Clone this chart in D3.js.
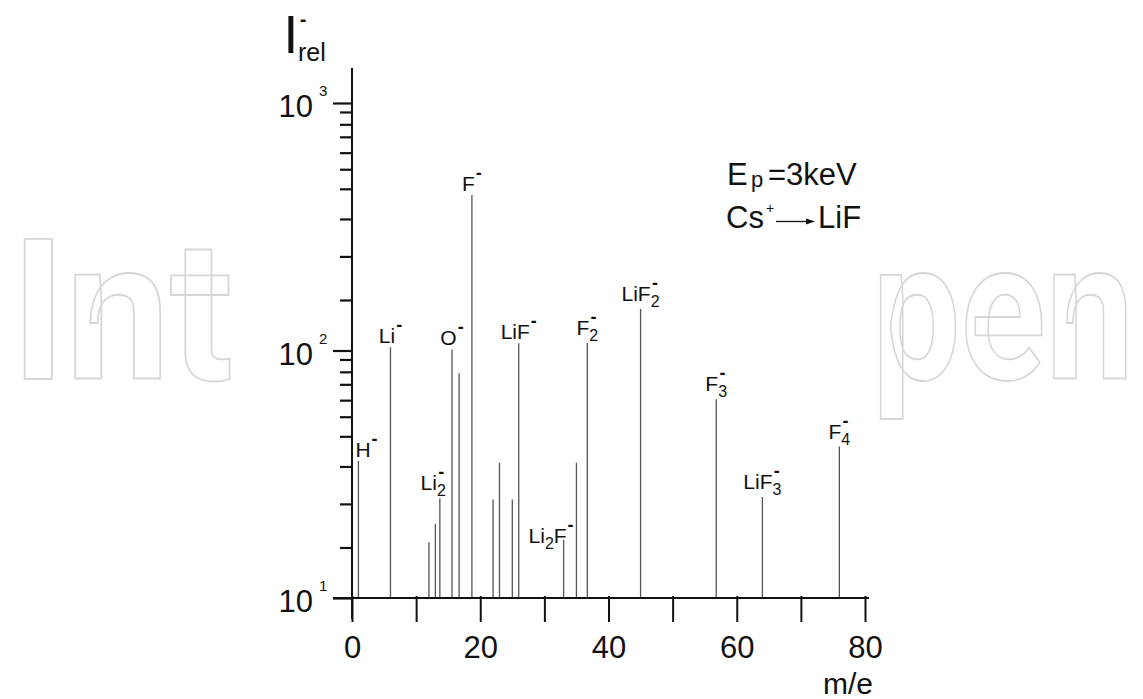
<!DOCTYPE html>
<html><head><meta charset="utf-8">
<script src="https://cdn.jsdelivr.net/npm/d3@7"></script>
<style>
body{margin:0;background:#fff}
svg{display:block}
text{font-family:"Liberation Sans",Arial,Helvetica,sans-serif;fill:#111}
</style>
</head><body>
<svg id="chart" width="1143" height="699"></svg>
<script>
// ---- data ----
const massValues  = [1, 6, 12, 13, 13.7, 15.6, 16.7, 18.7, 22, 23, 25, 26, 33, 35, 36.7, 45, 56.8, 64, 76];
const intensities = [35.8, 103, 16.8, 19.9, 25.3, 101, 80.9, 425, 25, 35.2, 25, 107, 17.2, 35.2, 107.6, 147, 63.5, 25.6, 40.9];
const peakLabels  = ["H^-", "Li^-", "", "", "Li_2^-", "O^-", "", "F^-", "", "", "", "LiF^-", "Li_2F^-", "", "F_2^-", "LiF_2^-", "F_3^-", "LiF_3^-", "F_4^-"];
const xTicks = [0, 10, 20, 30, 40, 50, 60, 70, 80];
const xTickLabels = ["0", "", "20", "", "40", "", "60", "", "80"];
const yDecades = [10, 100, 1000];
const yDecadeExponents = ["1", "2", "3"];
const yMinorMultipliers = [1.6, 2.4, 3.4, 4.5, 5.4, 6.3, 7.3, 8.2, 9.2];
const xTitle = "m/e";
const watermarkParts = ["Int", "pen"];

// ---- layout ----
const svg = d3.select("#chart");
const x = d3.scaleLinear().domain([0, 80]).range([352, 865]);
const y = d3.scaleLog().domain([10, 1000]).range([598, 103]);

// watermark fragments visible outside the plot area (scaled horizontally to fit)
const wmGeom = [{x: 11, len: 222}, {x: 872, len: 262}];
watermarkParts.forEach((s, i) => {
  const t = svg.append("text")
    .attr("x", 0).attr("y", 0)
    .style("font-family", "Roboto, 'Open Sans', sans-serif")
    .style("font-weight", "700")
    .style("font-size", "196px")
    .style("fill", "none").style("stroke", "#d6d6d6").style("stroke-width", 1.8)
    .text(s);
  const w = t.node().getComputedTextLength() || wmGeom[i].len;
  t.attr("transform", `translate(${wmGeom[i].x},379) scale(${wmGeom[i].len / w},1)`);
});

// peaks
svg.append("g").selectAll("line").data(massValues).join("line")
  .attr("x1", d => x(d)).attr("x2", d => x(d))
  .attr("y1", y(10)).attr("y2", (d, i) => y(intensities[i]))
  .attr("stroke", "#555").attr("stroke-width", 1.3);

// axes
const minorVals = [];
yDecades.slice(0, 2).forEach(dv => yMinorMultipliers.forEach(m => minorVals.push(dv * m)));

const yMajor = svg.append("g").attr("transform", `translate(${x(0)},0)`)
  .call(d3.axisLeft(y).tickValues(yDecades).tickSize(19).tickFormat(""));
const yMinor = svg.append("g").attr("transform", `translate(${x(0)},0)`)
  .call(d3.axisLeft(y).tickValues(minorVals).tickSize(12).tickFormat(""));
[yMajor, yMinor].forEach(g => {
  g.select(".domain").remove();
  g.selectAll(".tick line").attr("stroke", "#111").attr("stroke-width", 2.2);
});
svg.append("line").attr("x1", x(0)).attr("x2", x(0))
  .attr("y1", y(10) + 21).attr("y2", y(1000) - 35)
  .attr("stroke", "#111").attr("stroke-width", 2);

const xAxis = svg.append("g").attr("transform", `translate(0,${y(10)})`)
  .call(d3.axisBottom(x).tickValues(xTicks).tickSize(24).tickPadding(14)
    .tickFormat((d, i) => xTickLabels[i]));
xAxis.select(".domain").remove();
xAxis.selectAll(".tick line").attr("stroke", "#111").attr("stroke-width", 2).attr("y1", -2);
xAxis.selectAll(".tick text").style("font-size", "31px").attr("fill", "#111");
svg.append("line").attr("x1", x(0) - 19).attr("x2", x(80) + 4)
  .attr("y1", y(10)).attr("y2", y(10)).attr("stroke", "#111").attr("stroke-width", 2);

// y tick labels 10^n
yDecades.forEach((dv, i) => {
  svg.append("text").attr("x", 313).attr("y", y(dv) + 14)
    .attr("text-anchor", "end").style("font-size", "31px").text("10");
  svg.append("text").attr("x", 319).attr("y", y(dv) - 7)
    .style("font-size", "15px").text(yDecadeExponents[i]);
});

// y title  I^-_rel (one text element)
const yt = svg.append("text").attr("x", 283.5).attr("y", 53).style("font-size", "53px");
yt.append("tspan").text("I");
yt.append("tspan").attr("dx", 1.5).attr("dy", -27).style("font-size", "20px").style("font-weight", "bold").text("-");
yt.append("tspan").attr("dx", -8.5).attr("dy", 35).style("font-size", "25px").text("rel");

// x title
svg.append("text").attr("x", 848).attr("y", 694).attr("text-anchor", "middle")
  .style("font-size", "30px").text(xTitle);

// legend
svg.append("text").attr("x", 727).attr("y", 185).style("font-size", "31px").text("E");
svg.append("text").attr("x", 751).attr("y", 187).style("font-size", "22px").text("p");
svg.append("text").attr("x", 768).attr("y", 185).style("font-size", "31px").text("=3keV");
svg.append("text").attr("x", 726).attr("y", 228).style("font-size", "31px").text("Cs");
svg.append("text").attr("x", 766).attr("y", 213).style("font-size", "14px").text("+");
svg.append("line").attr("x1", 776).attr("x2", 808).attr("y1", 221.5).attr("y2", 221.5)
  .attr("stroke", "#111").attr("stroke-width", 1.3);
svg.append("path").attr("d", "M806,218.5 L815,221.5 L806,224.5 Z").attr("fill", "#111");
svg.append("text").attr("x", 818).attr("y", 228).style("font-size", "31px").text("LiF");

// peak labels
const labelAnchor = {"H^-": "start", "Li_2^-": "end", "Li_2F^-": "end"};
const labelDx = {"H^-": -3, "Li_2^-": 6, "Li_2F^-": 10};
function renderLabel(t, str) {
  let shift = 0, prevSub = false, run = "";
  const flush = () => { if (run) { t.append("tspan").attr("dy", -shift).text(run); shift = 0; run = ""; } };
  for (let i = 0; i < str.length; i++) {
    const c = str[i];
    if (c === "_") {
      flush();
      t.append("tspan").attr("dy", 6 - shift).style("font-size", "16px").text(str[++i]);
      shift = 6; prevSub = true;
    } else if (c === "^") {
      flush();
      const ts = t.append("tspan").attr("dy", -12 - shift)
        .style("font-size", "18px").style("font-weight", "bold").text(str[++i]);
      ts.attr("dx", prevSub ? -7.6 : 1);
      shift = -12; prevSub = false;
    } else {
      run += c;
      prevSub = false;
    }
  }
  flush();
}
massValues.forEach((m, i) => {
  const lab = peakLabels[i];
  if (!lab) return;
  const hasSub = lab.includes("_");
  const beside = lab === "Li_2F^-";
  const t = svg.append("text")
    .attr("x", x(m) + (labelDx[lab] || 0))
    .attr("y", y(intensities[i]) + (beside ? 3 : (hasSub ? -8 : -4)))
    .attr("text-anchor", labelAnchor[lab] || "middle")
    .style("font-size", "21px");
  renderLabel(t, lab);
});
</script>
</body></html>
